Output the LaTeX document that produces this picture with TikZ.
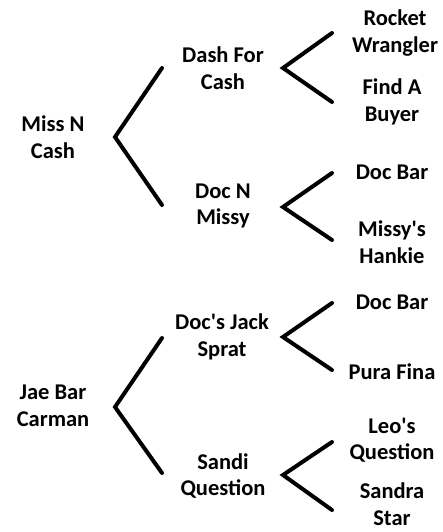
\documentclass[tikz,border=0pt]{standalone}
\usepackage{fontspec}
\setmainfont{Carlito}
\usepackage{tikz}
\usetikzlibrary{positioning}

\tikzset{
  horse/.style={align=center, inner sep=0pt, font=\bfseries\fontsize{22.5}{26.5}\selectfont},
  fork/.style={line width=4pt, line cap=round, line join=miter}
}

\begin{document}
\begin{tikzpicture}[x=1pt, y=-1pt]

    \useasboundingbox (0, 0) rectangle (443, 532);

    % first pedigree
    \node [horse] (missncash) at (53, 137) {Miss N\\Cash};
    \node [horse] (dashforcash) at (223, 68) {Dash For\\Cash};
    \node [horse] (docnmissy) at (223, 206) {Doc N\\Missy};
    \node [horse] (rocket) at (395, 33) {Rocket\\Wrangler};
    \node [horse] (findabuyer) at (392, 102) {Find A\\Buyer};
    \node [horse] (docbara) at (392, 172) {Doc Bar};
    \node [horse] (hankie) at (392, 242) {Missy\textquotesingle s\\Hankie};

    \coordinate (ma) at (115, 137);
    \coordinate (ma1) at (162, 68);
    \coordinate (ma2) at (162, 205);
    \coordinate (da) at (283, 68);
    \coordinate (da1) at (332, 33);
    \coordinate (da2) at (332, 102);
    \coordinate (db) at (283, 207);
    \coordinate (db1) at (332, 173);
    \coordinate (db2) at (332, 240);

    \draw [fork] (ma1) -- (ma) -- (ma2);
    \draw [fork] (da1) -- (da) -- (da2);
    \draw [fork] (db1) -- (db) -- (db2);

    % second pedigree
    \node [horse] (jaebar) at (53, 406) {Jae Bar\\Carman};
    \node [horse] (jacksprat) at (222, 337) {Doc\textquotesingle s Jack\\Sprat};
    \node [horse] (sandiq) at (223, 476) {Sandi\\Question};
    \node [horse] (docbarb) at (392, 302) {Doc Bar};
    \node [horse] (purafina) at (392, 372) {Pura Fina};
    \node [horse] (leosq) at (392, 440) {Leo\textquotesingle s\\Question};
    \node [horse] (sandrastar) at (392, 504) {Sandra\\Star};

    \coordinate (ja) at (115, 407);
    \coordinate (ja1) at (162, 338);
    \coordinate (ja2) at (162, 473);
    \coordinate (sa) at (283, 337);
    \coordinate (sa1) at (332, 303);
    \coordinate (sa2) at (332, 370);
    \coordinate (sb) at (283, 475);
    \coordinate (sb1) at (332, 442);
    \coordinate (sb2) at (332, 510);

    \draw [fork] (ja1) -- (ja) -- (ja2);
    \draw [fork] (sa1) -- (sa) -- (sa2);
    \draw [fork] (sb1) -- (sb) -- (sb2);

\end{tikzpicture}
\end{document}
